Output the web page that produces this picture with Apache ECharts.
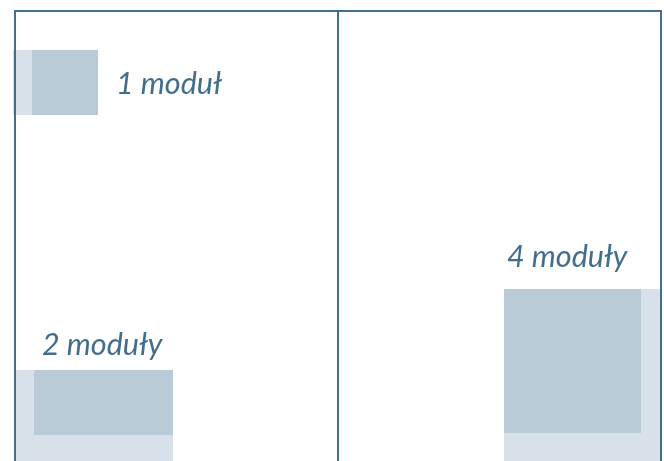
<!DOCTYPE html>
<html>
<head>
<meta charset="utf-8">
<script src="https://cdn.jsdelivr.net/npm/echarts@6/dist/echarts.min.js"></script>
<style>
html,body{margin:0;padding:0;background:#fff;}
#chart{width:664px;height:461px;}
</style>
</head>
<body>
<div id="chart"></div>
<script>
// Layout diagram, in page units (x to the right, y downwards)
// Module blocks: [x0, y0, x1, y1]
var lightBlocks = [
  [13, 50, 32, 115],
  [15, 370, 173, 461],
  [504, 289, 660, 461]
];
var darkBlocks = [
  [32, 50, 98, 115],
  [34, 370, 173, 435],
  [504, 289, 641, 433]
];
// Column frame lines: [x0, y0, x1, y1]
var frameLines = [
  [14, 11, 662, 11],
  [15, 11, 15, 461],
  [338, 11, 338, 461],
  [661, 11, 661, 461]
];
// Labels: [x, baselineY, text]
var labels = [
  [116, 92, '1 moduł'],
  [42, 353, '2 moduły'],
  [507, 265, '4 moduły']
];

var frameColor = '#41708f';
var darkColor = '#b9cbd6';
var lightColor = '#d8e1e9';
var textColor = '#416e8c';
var labelFontSize = 30.5;

function rectSeries(data, color, z) {
  return {
    type: 'custom',
    z: z,
    silent: true,
    data: data,
    renderItem: function (params, api) {
      var p0 = api.coord([api.value(0), api.value(1)]);
      var p1 = api.coord([api.value(2), api.value(3)]);
      return {
        type: 'rect',
        shape: {
          x: Math.min(p0[0], p1[0]),
          y: Math.min(p0[1], p1[1]),
          width: Math.abs(p1[0] - p0[0]),
          height: Math.abs(p1[1] - p0[1])
        },
        style: { fill: color }
      };
    }
  };
}

var chart = echarts.init(document.getElementById('chart'), null, { renderer: 'canvas' });
chart.setOption({
  animation: false,
  backgroundColor: '#ffffff',
  grid: { left: 0, right: 0, top: 0, bottom: 0 },
  xAxis: { type: 'value', min: 0, max: 664, show: false },
  yAxis: { type: 'value', min: 0, max: 461, inverse: true, show: false },
  series: [
    rectSeries(lightBlocks, lightColor, 1),
    rectSeries(darkBlocks, darkColor, 2),
    {
      type: 'custom',
      z: 3,
      silent: true,
      data: frameLines,
      renderItem: function (params, api) {
        var p0 = api.coord([api.value(0), api.value(1)]);
        var p1 = api.coord([api.value(2), api.value(3)]);
        return {
          type: 'line',
          shape: { x1: p0[0], y1: p0[1], x2: p1[0], y2: p1[1] },
          style: { stroke: frameColor, lineWidth: 2 }
        };
      }
    },
    {
      type: 'custom',
      z: 4,
      silent: true,
      data: labels,
      renderItem: function (params, api) {
        var p = api.coord([api.value(0), api.value(1)]);
        // baseline -> bottom of text box (approx. descent)
        var descent = 7;
        return {
          type: 'text',
          x: p[0],
          y: p[1] + descent,
          style: {
            text: labels[params.dataIndex][2],
            fill: textColor,
            font: 'italic ' + labelFontSize + 'px Lato',
            align: 'left',
            verticalAlign: 'bottom'
          }
        };
      }
    }
  ]
});
</script>
</body>
</html>
